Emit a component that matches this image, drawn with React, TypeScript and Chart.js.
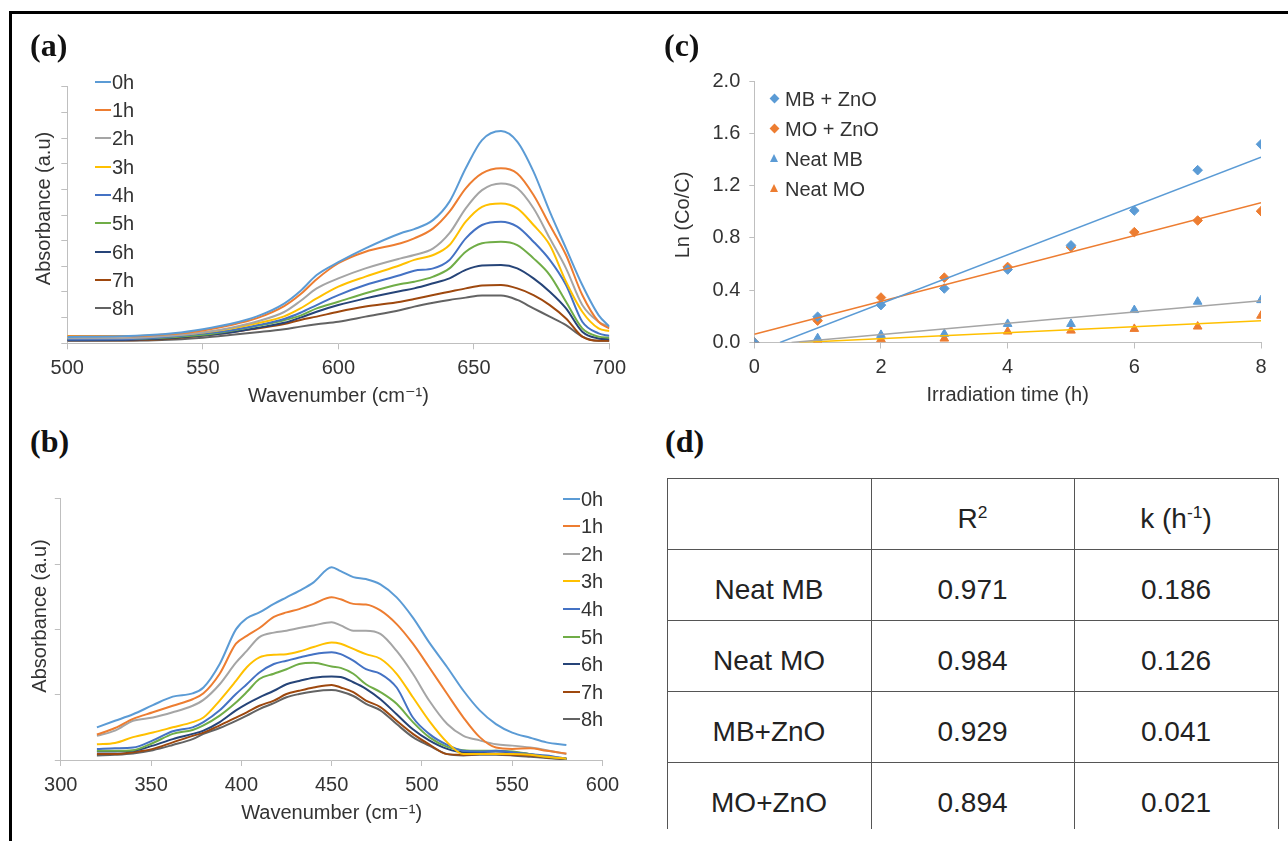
import React, { useEffect, useRef } from "react";
import { Chart, registerables } from "chart.js";

Chart.register(...registerables);

const FONT = "'Liberation Sans', Arial, 'DejaVu Sans', sans-serif";
const SERIF = "'Liberation Serif', 'Times New Roman', serif";
const TEXT = "#333333";
const AXIS = "#BFBFBF";
const FS = 20;

// ---------- shared legend data ----------
const HOUR_LABELS = ["0h", "1h", "2h", "3h", "4h", "5h", "6h", "7h", "8h"];
const HOUR_COLORS = ["#5B9BD5", "#ED7D31", "#A5A5A5", "#FFC000", "#4472C4", "#70AD47", "#264478", "#9E480E", "#636363"];

// ---------- panel (a): wavenumber 500-700 ----------
const wavenumberA = [500, 520, 540, 550, 560, 570, 580, 586, 592, 600, 610, 623, 628, 635, 641, 647, 653, 660, 666, 672, 678, 684, 690, 696, 700];
const absA0h = [0.25, 0.27, 0.40, 0.55, 0.75, 1.05, 1.55, 2.04, 2.66, 3.16, 3.70, 4.29, 4.45, 4.81, 5.52, 6.82, 7.92, 8.27, 7.86, 6.69, 5.13, 3.70, 2.27, 1.10, 0.65];
const absA1h = [0.27, 0.27, 0.37, 0.50, 0.70, 0.98, 1.45, 1.91, 2.50, 3.12, 3.57, 3.90, 4.09, 4.48, 5.13, 6.04, 6.62, 6.82, 6.62, 5.78, 4.61, 3.44, 1.88, 0.84, 0.58];
const absA2h = [0.20, 0.20, 0.30, 0.42, 0.60, 0.85, 1.22, 1.65, 2.14, 2.53, 2.92, 3.31, 3.44, 3.70, 4.29, 5.26, 5.97, 6.23, 6.04, 5.26, 4.09, 2.92, 1.49, 0.84, 0.65];
const absA3h = [0.28, 0.28, 0.33, 0.42, 0.57, 0.78, 1.05, 1.36, 1.75, 2.21, 2.60, 3.05, 3.25, 3.44, 3.83, 4.74, 5.32, 5.45, 5.26, 4.61, 3.83, 2.40, 1.23, 0.58, 0.48];
const absA4h = [0.15, 0.16, 0.28, 0.38, 0.50, 0.70, 0.95, 1.19, 1.49, 1.88, 2.27, 2.66, 2.83, 2.92, 3.25, 4.09, 4.61, 4.74, 4.55, 3.96, 3.25, 2.27, 0.84, 0.39, 0.29];
const absA5h = [0.17, 0.17, 0.25, 0.33, 0.48, 0.68, 0.90, 1.08, 1.36, 1.62, 1.95, 2.31, 2.40, 2.60, 2.92, 3.57, 3.90, 3.96, 3.83, 3.31, 2.66, 1.62, 0.58, 0.26, 0.22];
const absA6h = [0.12, 0.13, 0.22, 0.30, 0.42, 0.60, 0.80, 1.00, 1.23, 1.49, 1.75, 2.04, 2.14, 2.34, 2.53, 2.86, 3.03, 3.05, 2.92, 2.53, 2.01, 1.36, 0.45, 0.19, 0.16];
const absA7h = [0.12, 0.12, 0.20, 0.30, 0.42, 0.58, 0.75, 0.91, 1.04, 1.23, 1.43, 1.62, 1.73, 1.88, 2.01, 2.14, 2.25, 2.27, 2.14, 1.88, 1.49, 0.97, 0.26, 0.10, 0.10];
const absA8h = [0.10, 0.10, 0.15, 0.22, 0.32, 0.43, 0.55, 0.65, 0.74, 0.84, 1.04, 1.30, 1.43, 1.58, 1.69, 1.78, 1.86, 1.86, 1.69, 1.36, 1.04, 0.71, 0.26, 0.10, 0.10];

// ---------- panel (b): wavenumber 320-580 ----------
const wavenumberB = [320, 330, 340, 351, 362, 373, 379, 388, 397, 403, 410, 418, 425, 432, 440, 450, 455, 462, 469, 477, 486, 495, 504, 514, 523, 532, 541, 550, 560, 569, 580];
const absB0h = [0.50, 0.60, 0.70, 0.84, 0.97, 1.02, 1.11, 1.47, 2.00, 2.17, 2.26, 2.39, 2.49, 2.59, 2.72, 2.95, 2.89, 2.80, 2.77, 2.69, 2.49, 2.18, 1.80, 1.42, 1.06, 0.76, 0.55, 0.42, 0.34, 0.27, 0.23];
const absB1h = [0.39, 0.49, 0.63, 0.73, 0.83, 0.93, 1.02, 1.32, 1.78, 1.90, 2.02, 2.19, 2.26, 2.31, 2.39, 2.49, 2.46, 2.39, 2.38, 2.29, 2.08, 1.78, 1.42, 1.01, 0.65, 0.35, 0.19, 0.17, 0.18, 0.14, 0.10];
const absB2h = [0.37, 0.45, 0.60, 0.65, 0.73, 0.83, 0.92, 1.16, 1.49, 1.67, 1.88, 1.95, 1.98, 2.02, 2.06, 2.11, 2.06, 1.98, 1.98, 1.93, 1.67, 1.32, 0.91, 0.55, 0.37, 0.30, 0.24, 0.22, 0.19, 0.15, 0.09];
const absB3h = [0.24, 0.26, 0.35, 0.42, 0.50, 0.58, 0.65, 0.91, 1.21, 1.42, 1.57, 1.61, 1.62, 1.66, 1.73, 1.80, 1.78, 1.70, 1.62, 1.55, 1.32, 0.96, 0.60, 0.27, 0.09, 0.09, 0.09, 0.09, 0.08, 0.05, 0.02];
const absB4h = [0.17, 0.18, 0.19, 0.30, 0.44, 0.50, 0.58, 0.76, 1.01, 1.16, 1.34, 1.47, 1.52, 1.57, 1.62, 1.65, 1.62, 1.52, 1.39, 1.32, 1.11, 0.65, 0.40, 0.23, 0.14, 0.13, 0.14, 0.12, 0.09, 0.07, 0.02];
const absB5h = [0.14, 0.14, 0.15, 0.26, 0.40, 0.46, 0.53, 0.68, 0.88, 1.04, 1.24, 1.32, 1.39, 1.47, 1.49, 1.43, 1.41, 1.32, 1.16, 1.04, 0.86, 0.58, 0.35, 0.20, 0.15, 0.14, 0.14, 0.13, 0.09, 0.05, 0.02];
const absB6h = [0.13, 0.13, 0.14, 0.22, 0.32, 0.40, 0.45, 0.58, 0.76, 0.86, 0.96, 1.06, 1.16, 1.21, 1.26, 1.28, 1.27, 1.19, 1.09, 0.93, 0.70, 0.47, 0.30, 0.17, 0.12, 0.12, 0.13, 0.12, 0.09, 0.05, 0.02];
const absB7h = [0.09, 0.09, 0.12, 0.17, 0.27, 0.37, 0.42, 0.53, 0.65, 0.73, 0.83, 0.91, 1.01, 1.06, 1.11, 1.15, 1.11, 1.04, 0.91, 0.81, 0.60, 0.40, 0.24, 0.09, 0.08, 0.09, 0.09, 0.08, 0.07, 0.04, 0.02];
const absB8h = [0.07, 0.08, 0.10, 0.15, 0.23, 0.32, 0.40, 0.49, 0.60, 0.68, 0.78, 0.87, 0.96, 1.01, 1.05, 1.07, 1.05, 0.98, 0.86, 0.76, 0.55, 0.35, 0.22, 0.09, 0.07, 0.08, 0.08, 0.07, 0.05, 0.03, 0.01];

// ---------- panel (c): kinetics ----------
const irradiationTime = [0, 1, 2, 3, 4, 5, 6, 7, 8];
const lnMBZnO = [0, 0.197, 0.286, 0.413, 0.558, 0.743, 1.009, 1.318, 1.516];
const lnMOZnO = [0, 0.167, 0.344, 0.496, 0.578, 0.730, 0.844, 0.933, 1.004];
const lnNeatMB = [0, 0.033, 0.058, 0.066, 0.142, 0.142, 0.248, 0.312, 0.324];
const lnNeatMO = [0, 0.013, 0.025, 0.030, 0.084, 0.091, 0.104, 0.122, 0.205];
const kineticLabels = ["MB + ZnO", "MO + ZnO", "Neat MB", "Neat MO"];
const kineticColors = ["#5B9BD5", "#ED7D31", "#5B9BD5", "#ED7D31"];
const kineticMarkers = ["rectRot", "rectRot", "triangle", "triangle"];
const trendColors = ["#5B9BD5", "#ED7D31", "#A5A5A5", "#FFC000"];
const lnTicks = [0, 0.4, 0.8, 1.2, 1.6, 2.0];

// ---------- panel (d): table ----------
const tableSamples = ["Neat MB", "Neat MO", "MB+ZnO", "MO+ZnO"];
const tableR2 = ["0.971", "0.984", "0.929", "0.894"];
const tableK = ["0.186", "0.126", "0.041", "0.021"];

function linearTrend(xs: number[], ys: number[]) {
  const n = xs.length;
  const mx = xs.reduce((a, b) => a + b, 0) / n;
  const my = ys.reduce((a, b) => a + b, 0) / n;
  let sxy = 0;
  let sxx = 0;
  for (let i = 0; i < n; i++) {
    sxy += (xs[i] - mx) * (ys[i] - my);
    sxx += (xs[i] - mx) * (xs[i] - mx);
  }
  const m = sxy / sxx;
  const b = my - m * mx;
  const x0 = b < 0 ? -b / m : xs[0];
  const x1 = xs[n - 1];
  return [{ x: x0, y: m * x0 + b }, { x: x1, y: m * x1 + b }];
}

type Geom = {
  boxLeft: number; boxTop: number; boxWidth: number; boxHeight: number;
  areaLeft: number; areaRight: number; areaTop: number; areaBottom: number;
  yTitleX: number; yTitleY: number; xTitleY: number; yTitle: string;
};

const LH = FS * 1.2;

// draws the rotated y-axis title at an exact position (canvas text)
const yTitlePlugin = {
  id: "yTitlePlugin",
  afterDraw(chart: any, _args: any, opts: any) {
    if (!opts || !opts.text) return;
    const ctx = chart.ctx;
    ctx.save();
    ctx.translate(opts.x, opts.y);
    ctx.rotate(-Math.PI / 2);
    ctx.font = `${FS}px ${FONT}`;
    ctx.fillStyle = TEXT;
    ctx.textAlign = "center";
    ctx.textBaseline = "middle";
    ctx.fillText(opts.text, 0, 0);
    ctx.restore();
  },
};

function baseOptions(geom: Geom) {
  return {
    responsive: false,
    animation: false,
    layout: {
      padding: {
        left: 0,
        top: geom.areaTop - geom.boxTop,
        right: geom.boxLeft + geom.boxWidth - geom.areaRight,
        bottom: 0,
      },
    },
    plugins: {
      legend: { display: false },
      tooltip: { enabled: false },
      yTitlePlugin: { text: geom.yTitle, x: geom.yTitleX - geom.boxLeft, y: geom.yTitleY - geom.boxTop },
    },
  };
}

function xScale(geom: Geom, min: number, max: number, step: number, title: string) {
  return {
    type: "linear",
    min,
    max,
    ticks: { stepSize: step, color: TEXT, font: { family: FONT, size: FS }, padding: 7, maxRotation: 0 },
    grid: { drawOnChartArea: false, drawTicks: true, tickLength: 6, color: AXIS },
    border: { display: true, color: AXIS, width: 1 },
    title: {
      display: true,
      text: title,
      color: TEXT,
      font: { family: FONT, size: FS },
      padding: { top: 0, bottom: geom.boxTop + geom.boxHeight - geom.xTitleY - LH / 2 },
    },
    afterFit: (s: any) => { s.height = geom.boxTop + geom.boxHeight - geom.areaBottom; },
  };
}

function spectraConfig(xs: number[], series: number[][], xMin: number, xMax: number, yMax: number, geom: Geom): any {
  const datasets = series.map((vals, i) => ({
    label: HOUR_LABELS[i],
    data: vals.map((v, j) => ({ x: xs[j], y: v })),
    borderColor: HOUR_COLORS[i],
    backgroundColor: HOUR_COLORS[i],
    borderWidth: 2,
    pointRadius: 0,
    cubicInterpolationMode: "monotone",
    fill: false,
  }));
  return {
    type: "line",
    data: { datasets },
    plugins: [yTitlePlugin],
    options: {
      ...baseOptions(geom),
      scales: {
        x: xScale(geom, xMin, xMax, 50, "Wavenumber (cm\u207B\u00B9)"),
        y: {
          type: "linear",
          min: 0,
          max: yMax,
          ticks: { display: false, stepSize: 1 },
          grid: { drawOnChartArea: false, drawTicks: true, tickLength: 6, color: AXIS },
          border: { display: true, color: AXIS, width: 1 },
          afterFit: (s: any) => { s.width = geom.areaLeft - geom.boxLeft; },
        },
      },
    },
  };
}

function kineticsConfig(geom: Geom): any {
  const seriesVals = [lnMBZnO, lnMOZnO, lnNeatMB, lnNeatMO];
  const trends = seriesVals.map((ys, i) => ({
    label: kineticLabels[i] + " trend",
    data: linearTrend(irradiationTime, ys),
    showLine: true,
    borderColor: trendColors[i],
    backgroundColor: trendColors[i],
    borderWidth: 1.5,
    pointRadius: 0,
  }));
  const points = seriesVals.map((ys, i) => ({
    label: kineticLabels[i],
    data: ys.map((v, j) => ({ x: irradiationTime[j], y: v })),
    showLine: false,
    pointStyle: kineticMarkers[i],
    pointRadius: kineticMarkers[i] === "triangle" ? 5 : 4.8,
    backgroundColor: kineticColors[i],
    borderColor: kineticColors[i],
    borderWidth: 1,
  }));
  return {
    type: "scatter",
    data: { datasets: [...trends, ...points] },
    plugins: [yTitlePlugin],
    options: {
      ...baseOptions(geom),
      scales: {
        x: xScale(geom, 0, 8, 2, "Irradiation time (h)"),
        y: {
          type: "linear",
          min: 0,
          max: 2,
          afterBuildTicks: (s: any) => { s.ticks = lnTicks.map((v) => ({ value: v })); },
          ticks: {
            color: TEXT,
            font: { family: FONT, size: FS },
            padding: 9,
            callback: (v: any) => Number(v).toFixed(1),
          },
          grid: { drawOnChartArea: false, drawTicks: true, tickLength: 5, color: AXIS },
          border: { display: true, color: AXIS, width: 1 },
          afterFit: (s: any) => { s.width = geom.areaLeft - geom.boxLeft; },
        },
      },
    },
  };
}

function CanvasChart({ geom, make }: { geom: Geom; make: () => any }) {
  const ref = useRef<HTMLCanvasElement>(null);
  useEffect(() => {
    const chart = new Chart(ref.current as HTMLCanvasElement, make());
    return () => chart.destroy();
  }, []);
  return (
    <canvas
      ref={ref}
      width={geom.boxWidth}
      height={geom.boxHeight}
      style={{ position: "absolute", left: geom.boxLeft, top: geom.boxTop, width: geom.boxWidth, height: geom.boxHeight }}
    />
  );
}

function LineLegend({ lineLeft, lineWidth, firstY, step }: { lineLeft: number; lineWidth: number; firstY: number; step: number }) {
  return (
    <>
      {HOUR_LABELS.map((lab, i) => (
        <div
          key={lab}
          style={{
            position: "absolute",
            left: lineLeft,
            top: firstY + i * step - 12,
            height: 24,
            display: "flex",
            alignItems: "center",
            fontFamily: FONT,
            fontSize: FS,
            lineHeight: "24px",
            color: TEXT,
            whiteSpace: "nowrap",
          }}
        >
          <span style={{ display: "inline-block", width: lineWidth, height: 2, background: HOUR_COLORS[i] }} />
          <span style={{ marginLeft: 1 }}>{lab}</span>
        </div>
      ))}
    </>
  );
}

function MarkerLegend() {
  return (
    <>
      {kineticLabels.map((lab, i) => {
        const y = 98.7 + i * 30;
        const marker =
          kineticMarkers[i] === "rectRot" ? (
            <span
              style={{
                position: "absolute",
                left: 774 - 3.5,
                top: y - 3.5,
                width: 7,
                height: 7,
                background: kineticColors[i],
                transform: "rotate(45deg)",
              }}
            />
          ) : (
            <span
              style={{
                position: "absolute",
                left: 774 - 4.5,
                top: y - 4.5,
                width: 0,
                height: 0,
                borderLeft: "4.5px solid transparent",
                borderRight: "4.5px solid transparent",
                borderBottom: `8px solid ${kineticColors[i]}`,
              }}
            />
          );
        return (
          <React.Fragment key={lab}>
            {marker}
            <div
              style={{
                position: "absolute",
                left: 785,
                top: y - 12,
                height: 24,
                lineHeight: "24px",
                fontFamily: FONT,
                fontSize: FS,
                color: TEXT,
                whiteSpace: "nowrap",
              }}
            >
              {lab}
            </div>
          </React.Fragment>
        );
      })}
    </>
  );
}

function PanelLabel({ text, left, top }: { text: string; left: number; top: number }) {
  return (
    <div
      style={{
        position: "absolute",
        left,
        top,
        fontFamily: SERIF,
        fontWeight: "bold",
        fontSize: 32,
        lineHeight: "32px",
        color: "#111",
      }}
    >
      {text}
    </div>
  );
}

function ResultsTable() {
  const cell: React.CSSProperties = {
    border: "1.5px solid #555",
    textAlign: "center",
    verticalAlign: "middle",
    paddingTop: 10,
    paddingBottom: 0,
    height: 71,
    boxSizing: "border-box",
  };
  const sup: React.CSSProperties = { fontSize: "62%", verticalAlign: "super", lineHeight: 0 };
  return (
    <div style={{ position: "absolute", left: 664, top: 475, width: 616, height: 354.3, overflow: "hidden", padding: "2.5px 0 0 2.5px", boxSizing: "border-box" }}>
      <table
        style={{
          borderCollapse: "collapse",
          tableLayout: "fixed",
          width: 611,
          fontFamily: FONT,
          fontSize: 28,
          color: "#222",
        }}
      >
        <colgroup>
          <col style={{ width: 204 }} />
          <col style={{ width: 203 }} />
          <col style={{ width: 204 }} />
        </colgroup>
        <tbody>
          <tr>
            <td style={cell}></td>
            <td style={cell}>
              R<span style={sup}>2</span>
            </td>
            <td style={cell}>
              k (h<span style={sup}>-1</span>)
            </td>
          </tr>
          {tableSamples.map((s, i) => (
            <tr key={s}>
              <td style={cell}>{s}</td>
              <td style={cell}>{tableR2[i]}</td>
              <td style={cell}>{tableK[i]}</td>
            </tr>
          ))}
        </tbody>
      </table>
    </div>
  );
}

const geomA: Geom = {
  boxLeft: 0, boxTop: 60, boxWidth: 640, boxHeight: 360,
  areaLeft: 67.3, areaRight: 609.4, areaTop: 86.7, areaBottom: 343.3,
  yTitleX: 44.9, yTitleY: 208.5, xTitleY: 396, yTitle: "Absorbance (a.u)",
};
const geomB: Geom = {
  boxLeft: 0, boxTop: 460, boxWidth: 640, boxHeight: 381,
  areaLeft: 60.8, areaRight: 602.5, areaTop: 498.7, areaBottom: 760,
  yTitleX: 40, yTitleY: 616, xTitleY: 813, yTitle: "Absorbance (a.u)",
};
const geomC: Geom = {
  boxLeft: 640, boxTop: 60, boxWidth: 648, boxHeight: 360,
  areaLeft: 754.3, areaRight: 1261, areaTop: 79.3, areaBottom: 342.5,
  yTitleX: 683.4, yTitleY: 215, xTitleY: 395, yTitle: "Ln (Co/C)",
};

export default function App() {
  const seriesA = [absA0h, absA1h, absA2h, absA3h, absA4h, absA5h, absA6h, absA7h, absA8h];
  const seriesB = [absB0h, absB1h, absB2h, absB3h, absB4h, absB5h, absB6h, absB7h, absB8h];
  return (
    <div style={{ position: "absolute", left: 0, top: 0, width: 1288, height: 841, overflow: "hidden", background: "#fff" }}>
      <div style={{ position: "absolute", left: 9, top: 11, width: 1279, height: 2.5, background: "#000" }} />
      <div style={{ position: "absolute", left: 9, top: 11, width: 2.5, height: 830, background: "#000" }} />

      <CanvasChart geom={geomA} make={() => spectraConfig(wavenumberA, seriesA, 500, 700, 10, geomA)} />
      <CanvasChart geom={geomB} make={() => spectraConfig(wavenumberB, seriesB, 300, 600, 4, geomB)} />
      <CanvasChart geom={geomC} make={() => kineticsConfig(geomC)} />

      <LineLegend lineLeft={95} lineWidth={16} firstY={81.7} step={28.33} />
      <LineLegend lineLeft={563} lineWidth={17} firstY={498.7} step={27.57} />
      <MarkerLegend />

      <PanelLabel text="(a)" left={30} top={28.5} />
      <PanelLabel text="(b)" left={30} top={425} />
      <PanelLabel text="(c)" left={664} top={28.5} />
      <PanelLabel text="(d)" left={665} top={425} />

      <ResultsTable />
    </div>
  );
}
